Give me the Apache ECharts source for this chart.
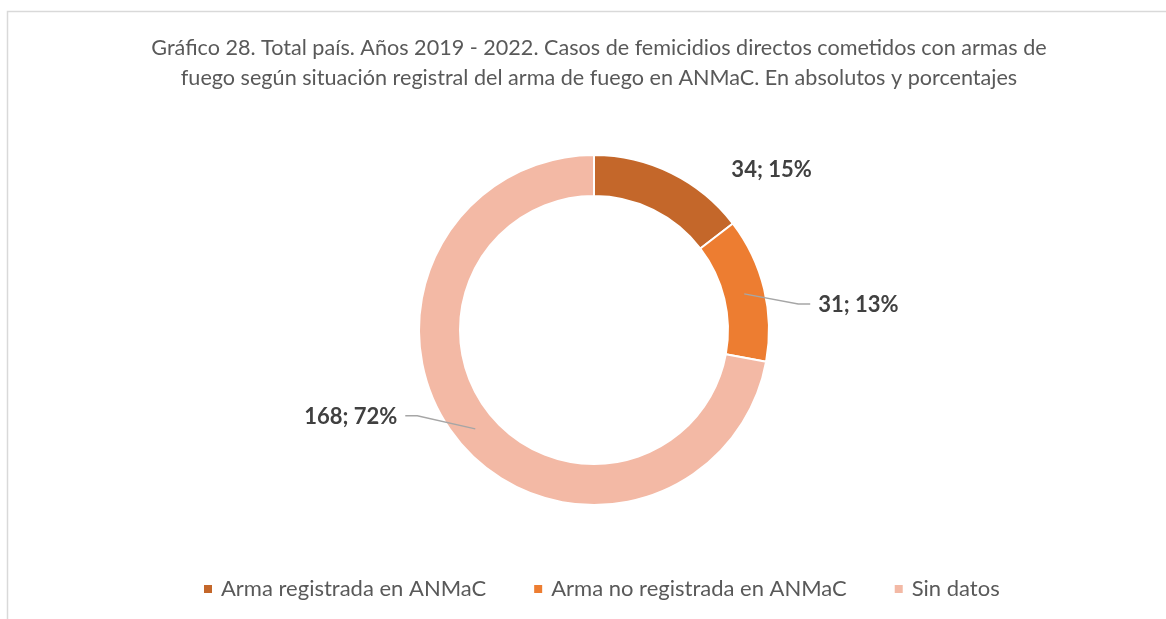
<!DOCTYPE html>
<html>
<head>
<meta charset="utf-8">
<title>Gráfico 28</title>
<script src="https://cdn.jsdelivr.net/npm/echarts@6/dist/echarts.min.js"></script>
<style>
  html, body { margin: 0; padding: 0; background: #fff; }
  #chart { width: 1166px; height: 619px; }
</style>
</head>
<body>
<div id="chart"></div>
<script>
const titleText = 'Gráfico 28. Total país. Años 2019 - 2022. Casos de femicidios directos cometidos con armas de\nfuego según situación registral del arma de fuego en ANMaC. En absolutos y porcentajes'
const categories = ['Arma registrada en ANMaC', 'Arma no registrada en ANMaC', 'Sin datos']
const casos = [34, 31, 168]
const porcentajes = [15, 13, 72]
const colors = ['#C4672A', '#ED7D31', '#F3B9A5']

// donut geometry
const cx = 594
const cy = 330
const rIn = 134
const rOut = 175
const rMid = (rIn + rOut) / 2
// where each label sits, relative to the middle of its slice
const labelOffset = [[69, -22], [74, 11], [-78, -12]]

const total = casos.reduce((a, b) => a + b, 0)
const midAngle = []
let acc = 0
casos.forEach(v => {
  midAngle.push((acc + v / 2) / total * Math.PI * 2)
  acc += v
})

const chart = echarts.init(document.getElementById('chart'))

// the label lines start inside the ring, so labels live in a second,
// transparent pie drawn above the coloured one
const option = {
  backgroundColor: '#fff',
  animation: false,
  textStyle: { fontFamily: 'Lato' },
  graphic: [
    {
      type: 'rect',
      shape: { x: 7.5, y: 11.5, width: 1300, height: 800 },
      style: { fill: 'none', stroke: '#D9D9D9', lineWidth: 1.5 },
      silent: true
    }
  ],
  title: {
    text: titleText,
    left: cx,
    top: 28,
    textAlign: 'center',
    textStyle: {
      fontFamily: 'Lato',
      fontSize: 21.6,
      fontWeight: 'normal',
      color: '#595959',
      lineHeight: 30
    }
  },
  legend: {
    data: categories,
    top: 573,
    left: 197,
    icon: 'rect',
    itemWidth: 10,
    itemHeight: 10,
    itemGap: 46,
    selectedMode: false,
    textStyle: { fontFamily: 'Lato', fontSize: 22, color: '#595959', padding: [0, 0, 0, 3] }
  },
  series: [
    {
      type: 'pie',
      z: 2,
      center: [cx, cy],
      radius: [rIn, rOut],
      startAngle: 90,
      clockwise: true,
      silent: true,
      itemStyle: { borderColor: '#fff', borderWidth: 2 },
      label: { show: false },
      labelLine: { show: false },
      data: categories.map((name, i) => ({
        name: name,
        value: casos[i],
        itemStyle: { color: colors[i] }
      }))
    },
    {
      type: 'pie',
      z: 3,
      center: [cx, cy],
      radius: [rIn, rOut],
      startAngle: 90,
      clockwise: true,
      silent: true,
      itemStyle: { color: 'rgba(0,0,0,0)', borderWidth: 0 },
      label: {
        show: true,
        position: 'outside',
        fontFamily: 'Lato',
        fontSize: 22,
        fontWeight: 'bold',
        color: '#404040',
        formatter: p => casos[p.dataIndex] + '; ' + porcentajes[p.dataIndex] + '%'
      },
      labelLine: {
        show: true,
        lineStyle: { color: '#A6A6A6', width: 1.5 }
      },
      labelLayout: function (p) {
        const i = p.dataIndex
        const ax = cx + rMid * Math.sin(midAngle[i])
        const ay = cy - rMid * Math.cos(midAngle[i])
        const o = labelOffset[i]
        const s = o[0] > 0 ? 1 : -1
        const lx = ax + o[0]
        const ly = ay + o[1]
        return {
          x: lx,
          y: ly,
          align: s > 0 ? 'left' : 'right',
          verticalAlign: 'middle',
          labelLinePoints: [[ax, ay], [lx - s * 20, ly - 1], [lx - s * 8, ly - 1]]
        }
      },
      data: categories.map((name, i) => ({
        name: name,
        value: casos[i],
        labelLine: { show: i !== 0 }
      }))
    }
  ]
}

chart.setOption(option)
</script>
</body>
</html>
